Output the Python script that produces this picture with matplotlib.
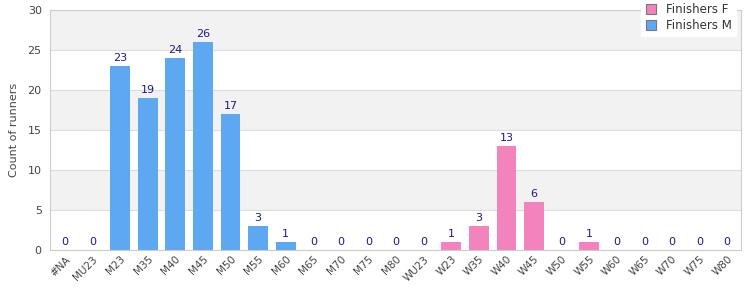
import matplotlib
matplotlib.use("Agg")
import matplotlib.pyplot as plt
from matplotlib.lines import Line2D

categories = ["#NA", "MU23", "M23", "M35", "M40", "M45", "M50", "M55", "M60", "M65",
              "M70", "M75", "M80", "WU23", "W23", "W35", "W40", "W45", "W50", "W55",
              "W60", "W65", "W70", "W75", "W80"]
finishers_m = [0, 0, 23, 19, 24, 26, 17, 3, 1, 0, 0, 0, 0, 0, 0, 0, 0, 0, 0, 0, 0, 0, 0, 0, 0]
finishers_f = [0, 0, 0, 0, 0, 0, 0, 0, 0, 0, 0, 0, 0, 0, 1, 3, 13, 6, 0, 1, 0, 0, 0, 0, 0]

col_m = "#5ea8f2"
col_f = "#f383bd"

fig = plt.figure(figsize=(7.5, 3), dpi=100)
ax = fig.add_axes([0.0667, 0.1667, 0.9213, 0.80])

x = list(range(len(categories)))
# alternating bands
for i, lo in enumerate(range(0, 30, 5)):
    if i % 2 == 1:
        ax.axhspan(lo, lo + 5, color="#f2f2f2", zorder=0, lw=0)
ax.yaxis.grid(True, color="#dddddd", lw=0.8, zorder=0.5)
ax.set_axisbelow(True)

ax.bar(x, finishers_m, width=0.72, color=col_m, zorder=2)
ax.bar(x, finishers_f, width=0.72, bottom=finishers_m, color=col_f, zorder=2)

for xi, m, f in zip(x, finishers_m, finishers_f):
    t = m + f
    ax.text(xi, t + 0.35, str(t), ha="center", va="bottom", fontsize=8, color="#1a1a8c", zorder=3)

ax.set_xlim(-0.54, 24.5)
ax.set_ylim(0, 30)
ax.set_yticks(range(0, 31, 5))
ax.set_xticks(x)
ax.set_xticklabels(categories, rotation=45, ha="right", rotation_mode="anchor", fontsize=7.5, color="#444444")
ax.tick_params(axis="y", labelsize=8, colors="#444444", length=0, pad=6)
ax.tick_params(axis="x", length=0, pad=3)
ax.set_ylabel("Count of runners", fontsize=8, color="#444444", labelpad=6)
for s in ax.spines.values():
    s.set_color("#cccccc")
    s.set_linewidth(0.8)

handles = [Line2D([], [], marker="s", ls="", markersize=6.5, markerfacecolor=col_f, markeredgecolor="#777777", markeredgewidth=0.8),
           Line2D([], [], marker="s", ls="", markersize=6.5, markerfacecolor=col_m, markeredgecolor="#777777", markeredgewidth=0.8)]
leg = ax.legend(handles, ["Finishers F", "Finishers M"], loc="upper right", bbox_to_anchor=(0.993, 1.045),
                bbox_transform=ax.transAxes,
                fontsize=8.5, frameon=True, fancybox=False, framealpha=1.0, edgecolor="white",
                handletextpad=0.8, borderpad=0.35, labelspacing=0.25, handlelength=1.0, borderaxespad=0)
leg.set_zorder(5)
for t in leg.get_texts():
    t.set_color("#333333")

fig.savefig("out.png", dpi=100)
